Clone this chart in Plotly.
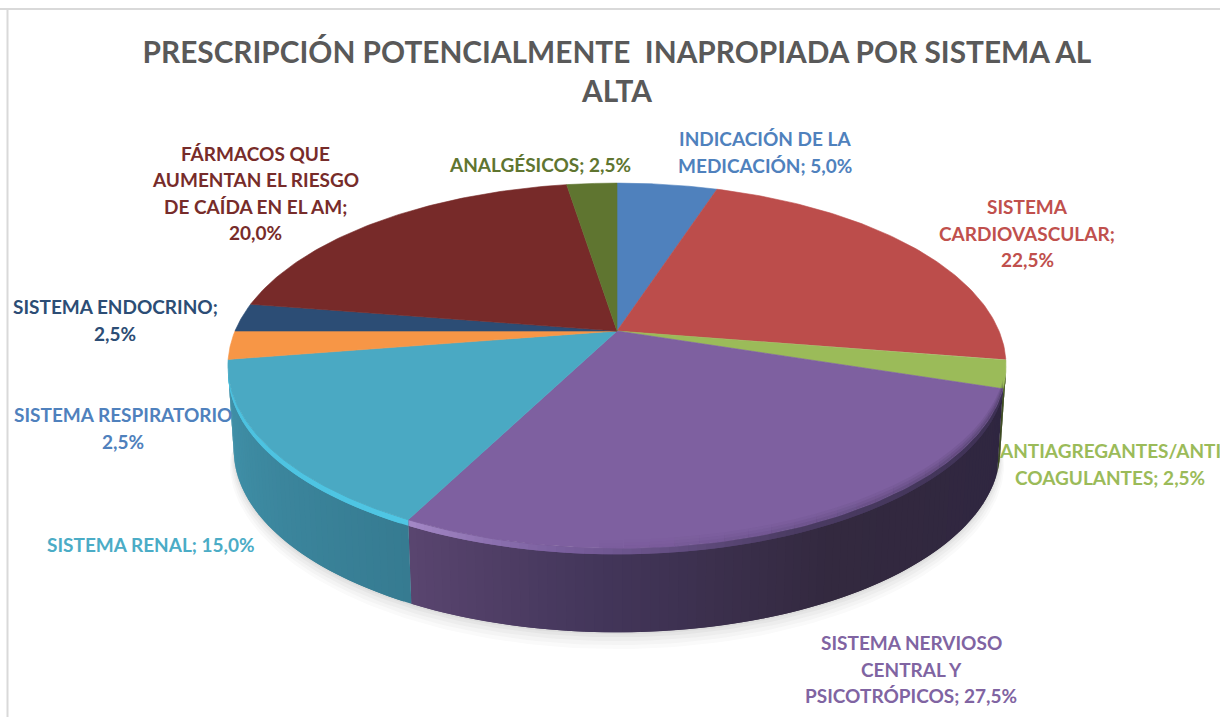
import numpy as np
import plotly.graph_objects as go

# ---------- data ----------
categories = ["INDICACIÓN DE LA MEDICACIÓN", "SISTEMA CARDIOVASCULAR", "ANTIAGREGANTES/ANTI COAGULANTES",
              "SISTEMA NERVIOSO CENTRAL Y PSICOTRÓPICOS", "SISTEMA RENAL", "SISTEMA RESPIRATORIO",
              "SISTEMA ENDOCRINO", "FÁRMACOS QUE AUMENTAN EL RIESGO DE CAÍDA EN EL AM", "ANALGÉSICOS"]
values = [5.0, 22.5, 2.5, 27.5, 15.0, 2.5, 2.5, 20.0, 2.5]
label_text = ["INDICACIÓN DE LA<br>MEDICACIÓN; 5,0%", "SISTEMA<br>CARDIOVASCULAR;<br>22,5%",
              "ANTIAGREGANTES/ANTI<br>COAGULANTES; 2,5%", "SISTEMA NERVIOSO<br>CENTRAL Y<br>PSICOTRÓPICOS; 27,5%",
              "SISTEMA RENAL; 15,0%", "SISTEMA RESPIRATORIO<br>2,5%", "SISTEMA ENDOCRINO;<br>2,5%",
              "FÁRMACOS QUE<br>AUMENTAN EL RIESGO<br>DE CAÍDA EN EL AM;<br>20,0%", "ANALGÉSICOS; 2,5%"]
title_text = "PRESCRIPCIÓN POTENCIALMENTE  INAPROPIADA POR SISTEMA AL<br>ALTA"

# ---------- styles ----------
top_colors = ["#4f81bd", "#bc4d4b", "#9bbb59", "#7e60a0", "#4aa9c3", "#f79646", "#2c4d75", "#772a29", "#5f7530"]
label_colors = ["#4f81bd", "#c0504d", "#9bbb59", "#8064a2", "#4bacc6", "#4f81bd", "#2c4d75", "#772c2a", "#5f7530"]
label_xy = [(765, 152), (1027, 233), (1110, 464), (911, 669), (151, 544), (123, 428), (115, 320), (255, 193), (540, 164)]
LINE_GAP = 26.5
wall_stops = {2: [(0, "#3c4a20"), (1, "#3c4a20")],
              3: [(0, "#2f2640"), (0.45, "#33293f"), (0.75, "#43365a"), (1, "#5a4570")],
              4: [(0, "#367b91"), (1, "#4192aa")],
              5: [(0, "#b87030"), (1, "#b87030")]}
bevel_stops = {2: [(0, "#56692f"), (1, "#56692f")],
               3: [(0, "#3c3052"), (0.5, "#4a3b62"), (0.8, "#7a5f9e"), (1, "#a488c6")],
               4: [(0, "#4fc6e4"), (1, "#4cc0de")],
               5: [(0, "#f79646"), (1, "#f79646")]}

CX, CY, A, B, K, DEPTH, BEVEL, FOOT = 617, 331, 382, 176, 0.19, 84, 6, 0.985


def project(theta):
    """Unit-circle angle (clockwise from the far side) to the tilted pie plane."""
    s, c = np.sin(theta), np.cos(theta)
    w = 1 + K * c
    return CX + A * s / w, CY - B * c / w


def foot(x, y):
    """Lower rim of the wall for a point of the upper rim."""
    return CX + (x - CX) * FOOT, y + DEPTH


def hex_rgb(h):
    return np.array([int(h[i:i + 2], 16) for i in (1, 3, 5)], float)


def mix(stops, t):
    ts = [p for p, _ in stops]
    rgb = [np.interp(t, ts, [hex_rgb(col)[i] for _, col in stops]) for i in range(3)]
    return "rgb(%d,%d,%d)" % tuple(round(v) for v in rgb)


def poly(x, y, color, lw=0):
    return go.Scatter(x=list(x) + [x[0]], y=list(y) + [y[0]], mode="lines", fill="toself", fillcolor=color,
                      line=dict(color=color, width=lw), hoverinfo="skip", showlegend=False)


edges = np.cumsum([0] + values) / sum(values) * 2 * np.pi
# the rim is only seen between the two silhouette points of the projected circle
vis0 = np.pi - np.arcsin(np.sqrt(1 - K ** 2))
vis1 = 2 * np.pi - vis0

fig = go.Figure()

# soft shadow under the rim, fading out towards both silhouette points
rim_t = np.linspace(vis0, vis1, 140)
rx, ry = foot(*project(rim_t))
taper = np.sin(np.linspace(0, np.pi, 140)) ** 0.5
for grow, alpha in [(17, .022), (13, .03), (9, .035), (5, .04), (2, .05)]:
    g = grow * taper
    sx = CX + (rx - CX) * (1 + g / A)
    sy = CY + DEPTH + (ry - CY - DEPTH) * (1 + g / B * 0.8)
    fig.add_trace(poly(sx, sy, "rgba(60,60,60,%.3f)" % alpha))

# side wall, as narrow overlapping strips
for i in wall_stops:
    a, b = max(edges[i], vis0), min(edges[i + 1], vis1)
    if b <= a:
        continue
    n = max(4, int((b - a) / 0.02))
    ts = np.linspace(a, b, n + 1)
    for j in range(n):
        arc = np.linspace(ts[j], min(ts[j + 1] + (ts[1] - ts[0]), b), 4)
        x, y = project(arc)
        fx, fy = foot(x, y)
        fig.add_trace(poly(np.r_[x, fx[::-1]], np.r_[y, fy[::-1]], mix(wall_stops[i], (j + 0.5) / n)))
    for j in range(n):
        arc = np.linspace(ts[j], min(ts[j + 1] + (ts[1] - ts[0]), b), 4)
        x, y = project(arc)
        fig.add_trace(poly(np.r_[x, x[::-1]], np.r_[y, y[::-1] + BEVEL], mix(bevel_stops[i], (j + 0.5) / n)))

# top face of every slice
for i, col in enumerate(top_colors):
    arc = np.linspace(edges[i], edges[i + 1], 90)
    x, y = project(arc)
    fig.add_trace(poly(np.r_[CX, x], np.r_[CY, y], col, 0.6))

# soft darkening of the front-right edge of the top face, fading along the arc
fade_n = 24
fade_t = np.linspace(edges[3], edges[3] + 0.75 * (edges[4] - edges[3]), fade_n + 1)
for j in range(fade_n):
    x, y = project(np.linspace(fade_t[j], fade_t[j + 1], 4))
    strength = 1 - (j + 0.5) / fade_n
    for inset, alpha in [(9, .12), (6, .16), (3, .22)]:
        fig.add_trace(poly(np.r_[x, x[::-1]], np.r_[y, y[::-1] - inset],
                           "rgba(47,38,64,%.3f)" % (alpha * strength)))

for txt, col, (lx, ly) in zip(label_text, label_colors, label_xy):
    lines = txt.split("<br>")
    for k, line in enumerate(lines):
        fig.add_annotation(x=lx, y=ly + (k - (len(lines) - 1) / 2) * LINE_GAP, text=line, showarrow=False,
                           xanchor="center", yanchor="middle",
                           font=dict(family="Lato", size=19, color=col, weight="bold"))

fig.update_layout(
    width=1220, height=717, margin=dict(l=0, r=0, t=0, b=0), autosize=False,
    paper_bgcolor="white", plot_bgcolor="white", showlegend=False,
    title=dict(text=title_text, x=0.5057, xanchor="center", y=0.912, yanchor="top",
               font=dict(family="Lato", size=29.8, color="#595959", weight="bold")),
    xaxis=dict(range=[0, 1220], visible=False, fixedrange=True),
    yaxis=dict(range=[717, 0], visible=False, fixedrange=True),
    shapes=[dict(type="line", xref="paper", yref="paper", x0=0, x1=1, y0=1 - 9 / 717, y1=1 - 9 / 717,
                 line=dict(color="#d9d9d9", width=2)),
            dict(type="line", xref="paper", yref="paper", x0=7.5 / 1220, x1=7.5 / 1220, y0=0, y1=1 - 9 / 717,
                 line=dict(color="#d9d9d9", width=2))],
)
fig.write_html("out.html", post_script="document.body.style.margin='0';", config={"displayModeBar": False})
